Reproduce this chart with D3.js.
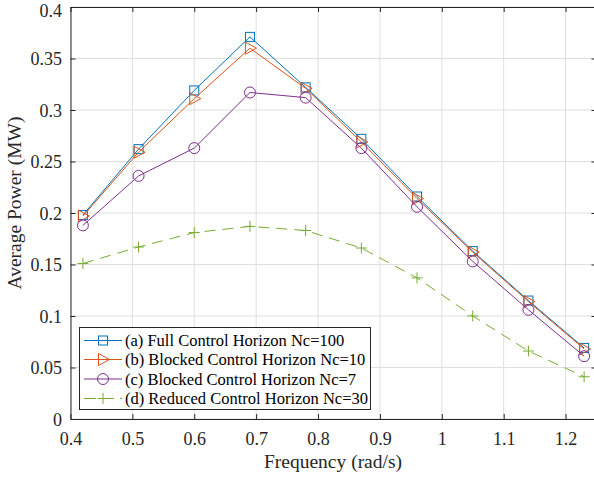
<!DOCTYPE html>
<html><head><meta charset="utf-8">
<script src="https://cdn.jsdelivr.net/npm/d3@7"></script>
<style>body{margin:0;background:#fff} svg{display:block} svg text{font-family:"Liberation Serif","Times New Roman",Times,serif}</style>
</head><body>
<svg id="c" width="594" height="479" font-family="Liberation Serif, serif"></svg>
<script>
const freq = [0.42,0.51,0.60,0.69,0.78,0.87,0.96,1.05,1.14,1.23];
const fullNc100 = [0.198,0.262,0.319,0.371,0.322,0.272,0.216,0.163,0.115,0.069];
const blockedNc10 = [0.197,0.259,0.311,0.360,0.321,0.269,0.214,0.162,0.114,0.068];
const blockedNc7 = [0.188,0.236,0.263,0.317,0.312,0.263,0.206,0.153,0.106,0.061];
const reducedNc30 = [0.151,0.167,0.181,0.187,0.183,0.166,0.137,0.100,0.066,0.041];
const seriesNames = ["(a) Full Control Horizon Nc=100","(b) Blocked Control Horizon Nc=10","(c) Blocked Control Horizon Nc=7","(d) Reduced Control Horizon Nc=30"];
const xTicks = [0.4,0.5,0.6,0.7,0.8,0.9,1.0,1.1,1.2];
const yTicks = [0,0.05,0.1,0.15,0.2,0.25,0.3,0.35,0.4];

const colors = ["#0072BD","#D95319","#7E2F8E","#77AC30"];
const markers = ["square","triangle","circle","plus"];
const dashes = [null,null,null,"11,7"];
const series = [fullNc100,blockedNc10,blockedNc7,reducedNc30];

const svg = d3.select("#c");
const L=70.5, R=596.5, T=7, B=419;
const x = d3.scaleLinear().domain([0.4,1.25]).range([L,R]);
const y = d3.scaleLinear().domain([0,0.4]).range([B,T]);
const axc = "#262626";

// grid
const g = svg.append("g");
g.selectAll(".gx").data(xTicks).enter().append("line")
  .attr("x1",d=>x(d)).attr("x2",d=>x(d)).attr("y1",T).attr("y2",B)
  .attr("stroke","#dfdfdf").attr("stroke-width",1);
g.selectAll(".gy").data(yTicks).enter().append("line")
  .attr("y1",d=>y(d)).attr("y2",d=>y(d)).attr("x1",L).attr("x2",R)
  .attr("stroke","#dfdfdf").attr("stroke-width",1);

// axes
const xAxisB = d3.axisBottom(x).tickValues(xTicks).tickSizeInner(-5).tickSizeOuter(0).tickFormat(d3.format("~g"));
const xAxisT = d3.axisTop(x).tickValues(xTicks).tickSizeInner(-5).tickSizeOuter(0).tickFormat("");
const yAxisL = d3.axisLeft(y).tickValues(yTicks).tickSizeInner(-5).tickSizeOuter(0).tickFormat(d3.format("~g"));
const yAxisR = d3.axisRight(y).tickValues(yTicks).tickSizeInner(-5).tickSizeOuter(0).tickFormat("");
function style(sel){
  sel.attr("font-family",null).attr("font-size",null);
  sel.select(".domain").attr("stroke",axc);
  sel.selectAll(".tick line").attr("stroke",axc);
  sel.selectAll("text").attr("fill",axc).style("font-size","18px");
}
svg.append("g").attr("transform",`translate(0,${B})`).call(xAxisB).call(style)
  .selectAll("text").attr("y",25.5).attr("dy",0);
svg.append("g").attr("transform",`translate(0,${T})`).call(xAxisT).call(style);
svg.append("g").attr("transform",`translate(${L},0)`).call(yAxisL).call(style)
  .selectAll("text").attr("x",-8.5).attr("dy",d=>d===0.4?"0.5em":"0.36em");
svg.append("g").attr("transform",`translate(${R},0)`).call(yAxisR).call(style);

// labels
svg.append("text").attr("x",333).attr("y",468).attr("text-anchor","middle")
  .style("font-size","19.5px").attr("fill",axc).text("Frequency (rad/s)");
svg.append("text").attr("transform",`translate(20.5,203) rotate(-90)`).attr("text-anchor","middle")
  .style("font-size","19.5px").attr("fill",axc).text("Average Power (MW)");

function drawMarker(sel, type, color, cx, cy){
  if(type==="square") sel.append("rect").attr("x",cx-4.5).attr("y",cy-4.5).attr("width",9).attr("height",9)
      .attr("fill","none").attr("stroke",color).attr("stroke-width",1);
  else if(type==="triangle") sel.append("path").attr("d",`M${cx-4.5},${cy-6}L${cx+6.5},${cy}L${cx-4.5},${cy+6}Z`)
      .attr("fill","none").attr("stroke",color).attr("stroke-width",1);
  else if(type==="circle") sel.append("circle").attr("cx",cx).attr("cy",cy).attr("r",5.5)
      .attr("fill","none").attr("stroke",color).attr("stroke-width",1);
  else sel.append("path").attr("d",`M${cx-5.5},${cy}H${cx+5.5}M${cx},${cy-5.5}V${cy+5.5}`)
      .attr("fill","none").attr("stroke",color).attr("stroke-width",1);
}

const line = d3.line().x((d,i)=>x(freq[i])).y(d=>y(d));
const plot = svg.append("g");
series.forEach((s,k)=>{
  plot.append("path").datum(s).attr("d",line).attr("fill","none")
    .attr("stroke",colors[k]).attr("stroke-width",1).attr("stroke-dasharray",dashes[k]);
  const mg = plot.append("g");
  s.forEach((v,i)=>drawMarker(mg,markers[k],colors[k],x(freq[i]),y(v)));
});

// legend
const lg = svg.append("g");
lg.append("rect").attr("x",79.5).attr("y",327.5).attr("width",291).attr("height",82)
  .attr("fill","#fff").attr("stroke",axc).attr("stroke-width",1);
const rowY = [340.5,359.5,379,398.5];
seriesNames.forEach((name,k)=>{
  lg.append("line").attr("x1",84).attr("x2",122).attr("y1",rowY[k]).attr("y2",rowY[k])
    .attr("stroke",colors[k]).attr("stroke-width",1).attr("stroke-dasharray",k===3?"12,6":null);
  drawMarker(lg,markers[k],colors[k],103,rowY[k]);
  lg.append("text").attr("x",125).attr("y",rowY[k]).attr("dy","0.35em")
    .style("font-size","16.5px").attr("fill","#000").text(name);
});
</script>
</body></html>
